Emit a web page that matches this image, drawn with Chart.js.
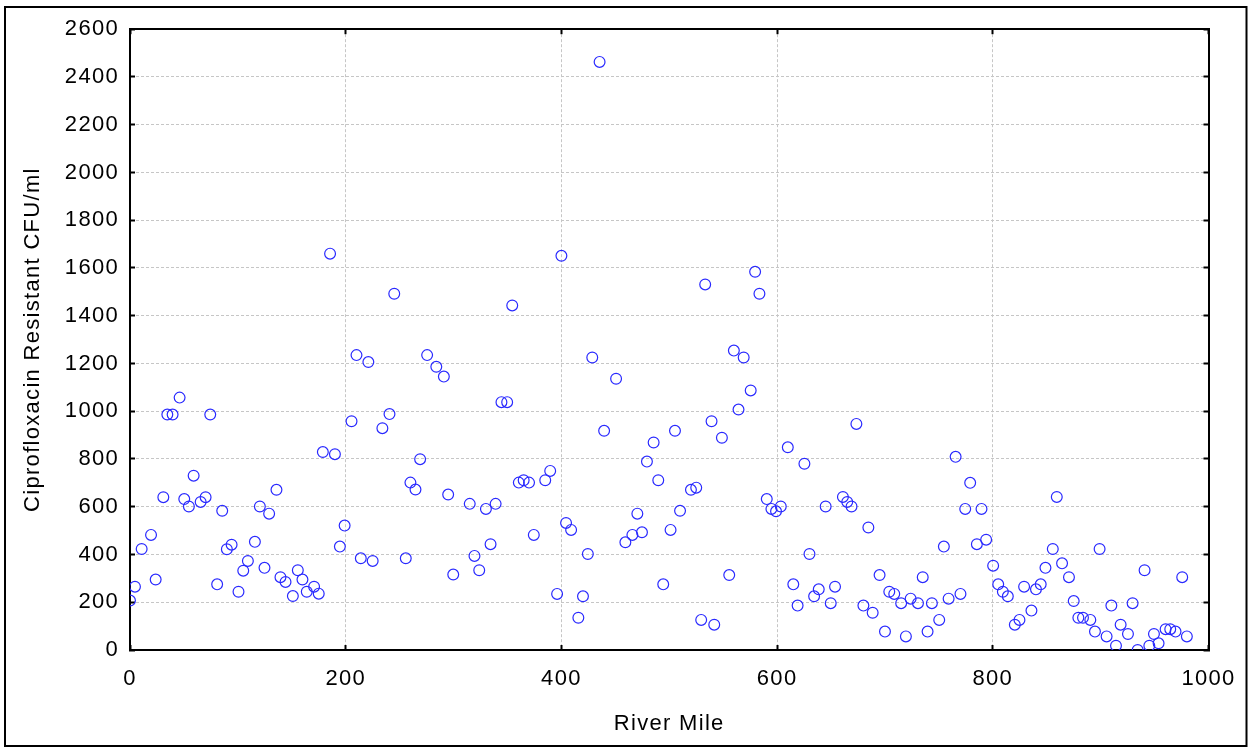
<!DOCTYPE html>
<html>
<head>
<meta charset="utf-8">
<script src="https://cdn.jsdelivr.net/npm/chart.js@4/dist/chart.umd.min.js"></script>
<style>
  html,body{margin:0;padding:0;background:#fff}
  canvas{display:block}
</style>
</head>
<body>
<canvas id="c" width="1254" height="747"></canvas>
<script>
// river mile vs ciprofloxacin resistant counts
const riverMile = [
  0,4.6,10.8,19.5,23.8,30.9,34.6,39.5,46,50.3,54.6,59,65.5,70.1,74.4,80.8,85.5,89.8,94.2,100.6,
  105,109.3,115.8,120.4,124.7,129,135.8,139.5,144.2,151,155.6,159.9,163.9,170.7,175,178.8,185.5,190,194.6,199,
  205.4,210,214,221,225,234,240.6,245,255.7,260,264.7,269,275.5,284,291,295,299.7,315,319.4,323.8,
  330,334.3,339,344.4,349.7,354.4,360.5,365,370,374.4,385,389.6,396,400,404.3,409,415.7,420,424.5,428.6,
  435.4,439.6,450.7,459.3,465.8,470.4,474.7,479.3,485.5,489.8,494.4,501.2,505.3,510,520.1,525,529.6,533.3,539.2,541.7,
  548.8,555.6,559.9,564.2,569,575.5,579.6,583.6,590.4,594.7,599,603.4,609.9,615,619,625.3,630,634.3,638.6,645,
  649.7,653.7,661,665,669,673.5,680,684.6,688.6,695,700,704,708.6,715,719.4,723.8,730.6,735,739.5,743.5,
  750.3,754.6,759,765.5,770,774.4,779,785.2,789.5,793.8,800.3,805,809.3,813.9,820.4,824.7,829,835.8,840,844.4,
  848.8,855.6,859.3,864.2,870.6,875,879.3,883.6,890.4,894.7,899,905.5,909.9,914.2,918.5,925.3,929.6,934.3,940.7,945.1,
  949.4,953.7,960.2,964.5,969.4,975.6,979.9
];
const cfuPerMl = [
  207,265,423,482,295,640,986,986,1057,632,601,730,620,640,986,275,583,422,441,244,
  332,373,453,601,344,571,671,305,285,226,334,295,244,265,236,829,1660,820,433,521,
  958,1235,384,1206,373,929,988,1492,384,701,672,799,1235,1186,1145,651,316,612,394,334,
  591,443,612,1038,1038,1443,701,711,701,482,711,750,235,1651,532,503,135,225,402,1225,
  2463,918,1136,451,482,571,493,789,869,711,275,503,918,583,671,680,126,1531,958,106,
  889,314,1254,1007,1225,1087,1584,1492,632,591,581,601,849,275,186,780,402,225,254,601,
  196,265,641,620,601,947,186,513,156,314,77,244,235,196,57,215,196,305,77,196,
  126,433,215,809,235,591,700,443,591,462,353,275,244,225,106,126,265,165,254,275,
  344,423,641,363,305,205,135,135,126,77,423,57,186,18,106,67,196,0,334,18,
  67,28,87,87,77,305,57
];
const xTicks = [0,200,400,600,800,1000];
const yTicks = [0,200,400,600,800,1000,1200,1400,1600,1800,2000,2200,2400,2600];
const xTitle = 'River Mile';
const yTitle = 'Ciprofloxacin Resistant CFU/ml';

(function(){
  const FONT = {family:"'Liberation Sans', Arial, sans-serif", size:22};
  const grey = '#c6c6c6';

  const frame = {
    id:'frame',
    beforeDraw(chart){
      const ctx = chart.ctx;
      ctx.save();
      ctx.fillStyle = '#fff';
      ctx.fillRect(0,0,chart.width,chart.height);
      ctx.strokeStyle = '#000';
      ctx.lineWidth = 2;
      ctx.strokeRect(5,7,1241.5,739);
      ctx.restore();
      // text in the reference is set loose
      ctx.letterSpacing = '1.3px';
    }
  };

  function setTicks(list){ return s => { s.ticks = list.map(v => ({value:v})); }; }

  const sideAxis = (pos, list) => ({
    type:'linear', position:pos, min:list[0], max:list[list.length-1],
    afterBuildTicks:setTicks(list),
    afterFit(s){ if(pos==='top') s.height=0; else s.width=0; },
    ticks:{display:false},
    grid:{drawOnChartArea:false, drawTicks:true, tickLength:-5, tickColor:'#000', tickWidth:2},
    border:{display:true, color:'#000', width:2}
  });

  new Chart(document.getElementById('c'), {
    type:'scatter',
    data:{
      datasets:[{
        data: riverMile.map((x,i) => ({x, y:cfuPerMl[i]})),
        pointStyle:'circle',
        pointRadius:5.4,
        pointBorderWidth:1.2,
        pointBorderColor:'#2a2aff',
        pointBackgroundColor:'rgba(0,0,0,0)',
        clip:0
      }]
    },
    options:{
      responsive:false,
      animation:false,
      devicePixelRatio:1,
      layout:{padding:{left:0, right:45, top:29, bottom:0}},
      plugins:{legend:{display:false}, tooltip:{enabled:false}},
      scales:{
        x:{
          type:'linear', position:'bottom', min:0, max:1000,
          afterBuildTicks:setTicks(xTicks),
          afterFit(s){ s.height = 97; },
          ticks:{color:'#000', font:FONT, padding:21, maxRotation:0, callback:v => String(v)},
          grid:{color:grey, lineWidth:1, tickLength:-5, tickColor:'#000', tickWidth:2},
          border:{display:true, color:'#000', width:2, dash:[3,2]},
          title:{display:true, text:xTitle, color:'#000', font:FONT, padding:{top:0, bottom:10}}
        },
        y:{
          type:'linear', position:'left', min:0, max:2600,
          afterBuildTicks:setTicks(yTicks),
          afterFit(s){ s.width = 130; },
          ticks:{color:'#000', font:FONT, padding:16, callback:v => String(v)},
          grid:{color:grey, lineWidth:1, tickLength:-5, tickColor:'#000', tickWidth:2},
          border:{display:true, color:'#000', width:2, dash:[3,2]},
          title:{display:true, text:yTitle, color:'#000', font:FONT, padding:{top:20, bottom:0}}
        },
        x2: sideAxis('top', xTicks),
        y2: sideAxis('right', yTicks)
      }
    },
    plugins:[frame]
  });
})();
</script>
</body>
</html>
